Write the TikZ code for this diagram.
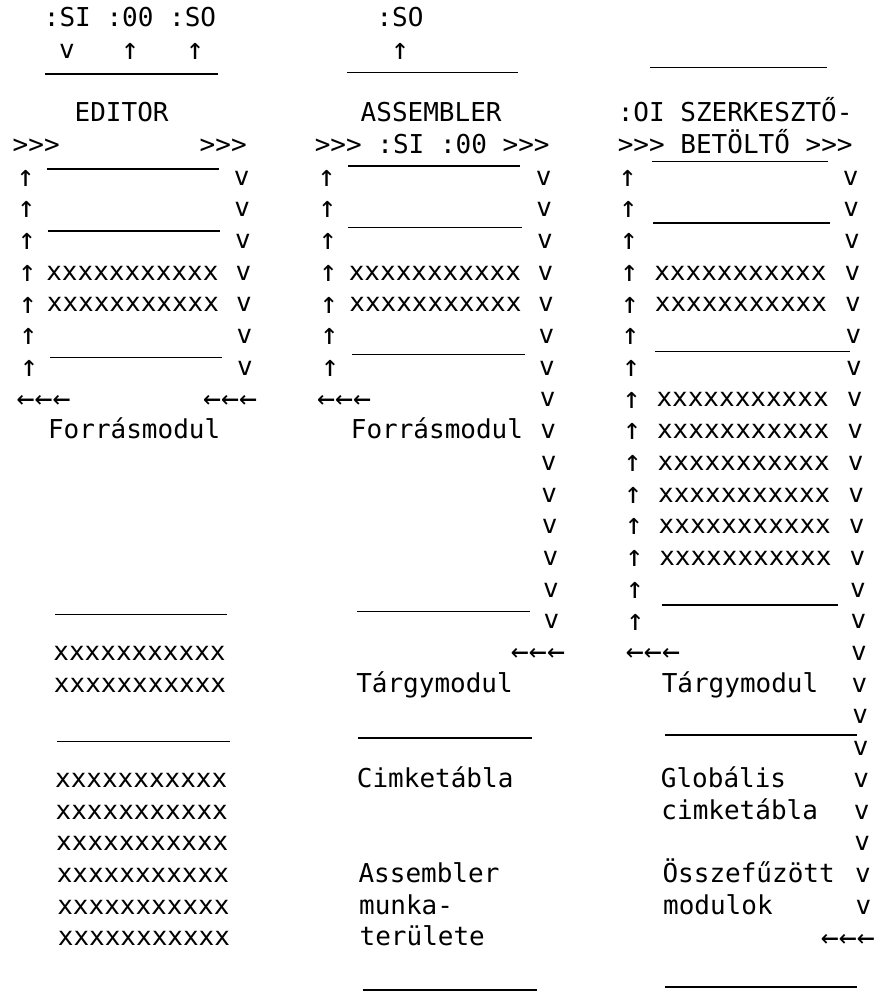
\documentclass[tikz,border=0pt]{standalone}
\usepackage{fontspec}
\newfontfamily\printfont{DejaVu Sans Mono}

\begin{document}
\begin{tikzpicture}[
    x=1pt, y={(0.55pt,-31.7pt)},
    glyph/.style={inner sep=0pt, text height=16pt, text depth=0pt,
      font=\printfont\fontsize{26}{31}\selectfont},
    lglyph/.style={glyph, anchor=west},
    arr/.style={glyph, text height=18.5pt,
      font=\printfont\fontsize{30}{31}\selectfont},
    rule/.style={line width=1.3pt}
  ]
  \useasboundingbox (0pt,0pt) rectangle (878pt,-991pt);
  \begin{scope}[yshift=-18.5pt]
    \node[glyph] (ed-io) at (130,0) {:SI :00 :SO};
    \node[glyph] (ed-si) at (66.5,1) {v};
    \node[arr] (ed-oo) at (129.5,1) {↑};
    \node[arr] (ed-so) at (194.5,1) {↑};
    \draw[rule] (44,1.75) -- (217,1.75);
    \node[glyph] (ed-title) at (120,3) {EDITOR};
    \node[glyph] (ed-in) at (34,4) {>>>};
    \node[glyph] (ed-out) at (221,4) {>>>};
    \draw[rule] (44,4.75) -- (216,4.75);
    \foreach \r in {5,...,11} {
      \node[arr] (ed-up-\r) at (23,\r) {↑};
      \node[glyph] (ed-dn-\r) at (239,\r) {v};
    }
    \draw[rule] (44,6.7) -- (216,6.7);
    \node[glyph] (ed-x8) at (128,8) {xxxxxxxxxxx};
    \node[glyph] (ed-x9) at (128,9) {xxxxxxxxxxx};
    \draw[rule] (44,10.7) -- (216,10.7);
    \node[arr] (ed-ret-l) at (37,12) {←←←};
    \node[arr] (ed-ret-r) at (223.5,12) {←←←};
    \node[glyph] (ed-src) at (127,13) {Forrásmodul};
    \draw[rule] (45,18.8) -- (217,18.8);
    \node[glyph] (ed-x20) at (128.5,20) {xxxxxxxxxxx};
    \node[glyph] (ed-x21) at (128.5,21) {xxxxxxxxxxx};
    \draw[rule] (44.5,22.8) -- (217.5,22.8);
    \foreach \r in {24,...,29}
      \node[glyph] (ed-x\r) at (128,\r) {xxxxxxxxxxx};

    \node[glyph] (as-so) at (400,0) {:SO};
    \node[arr] (as-so-up) at (399.5,1) {↑};
    \draw[rule] (346,1.7) -- (517,1.7);
    \node[glyph] (as-title) at (429.5,3) {ASSEMBLER};
    \node[glyph] (as-io) at (430,4) {>>> :SI :00 >>>};
    \draw[rule] (345.5,4.65) -- (517.5,4.65);
    \foreach \r in {5,...,11}
      \node[arr] (as-up-\r) at (324,\r) {↑};
    \foreach \r in {5,...,19}
      \node[glyph] (as-dn-\r) at (541,\r) {v};
    \draw[rule] (344.5,6.6) -- (518.5,6.6);
    \node[glyph] (as-x8) at (430.5,8) {xxxxxxxxxxx};
    \node[glyph] (as-x9) at (430.5,9) {xxxxxxxxxxx};
    \draw[rule] (346,10.6) -- (519,10.6);
    \node[arr] (as-ret-l) at (337.5,12) {←←←};
    \node[lglyph] (as-src) at (343.5,13) {Forrásmodul};
    \draw[rule] (346.5,18.7) -- (519.5,18.7);
    \node[arr] (as-ret-r) at (527,20) {←←←};
    \node[lglyph] (as-obj) at (344.5,21) {Tárgymodul};
    \draw[rule] (345.5,22.7) -- (519.5,22.7);
    \node[lglyph] (as-sym) at (343.5,24) {Cimketábla};
    \node[lglyph] (as-work1) at (343.5,27) {Assembler};
    \node[lglyph] (as-work2) at (343.5,28) {munka-};
    \node[lglyph] (as-work3) at (343.5,29) {területe};
    \draw[rule] (346,30.65) -- (520,30.65);

    \draw[rule] (649,1.55) -- (826,1.55);
    \node[glyph] (ld-title) at (733.5,3) {:OI SZERKESZTŐ-};
    \node[glyph] (ld-io) at (733,4) {>>> BETÖLTŐ >>>};
    \draw[rule] (649.5,4.5) -- (825.5,4.5);
    \foreach \r in {5,...,19}
      \node[arr] (ld-up-\r) at (625,\r) {↑};
    \foreach \r in {5,...,28}
      \node[glyph] (ld-dn-\r) at (848,\r) {v};
    \draw[rule] (649.5,6.45) -- (826.5,6.45);
    \foreach \r in {8,9,12,13,14,15,16,17}
      \node[glyph] (ld-x\r) at (736,\r) {xxxxxxxxxxx};
    \draw[rule] (649,10.5) -- (844,10.5);
    \draw[rule] (652,18.5) -- (828,18.5);
    \node[arr] (ld-ret-l) at (642,20) {←←←};
    \node[lglyph] (ld-obj) at (650,21) {Tárgymodul};
    \draw[rule] (652.5,22.6) -- (844.5,22.6);
    \node[lglyph] (ld-glob1) at (647.5,24) {Globális};
    \node[lglyph] (ld-glob2) at (647.5,25) {cimketábla};
    \node[lglyph] (ld-mod1) at (647.5,27) {Összefűzött};
    \node[lglyph] (ld-mod2) at (647.5,28) {modulok};
    \node[arr] (ld-ret-r) at (832,29) {←←←};
    \draw[rule] (648,30.55) -- (840,30.55);
  \end{scope}
\end{tikzpicture}
\end{document}
